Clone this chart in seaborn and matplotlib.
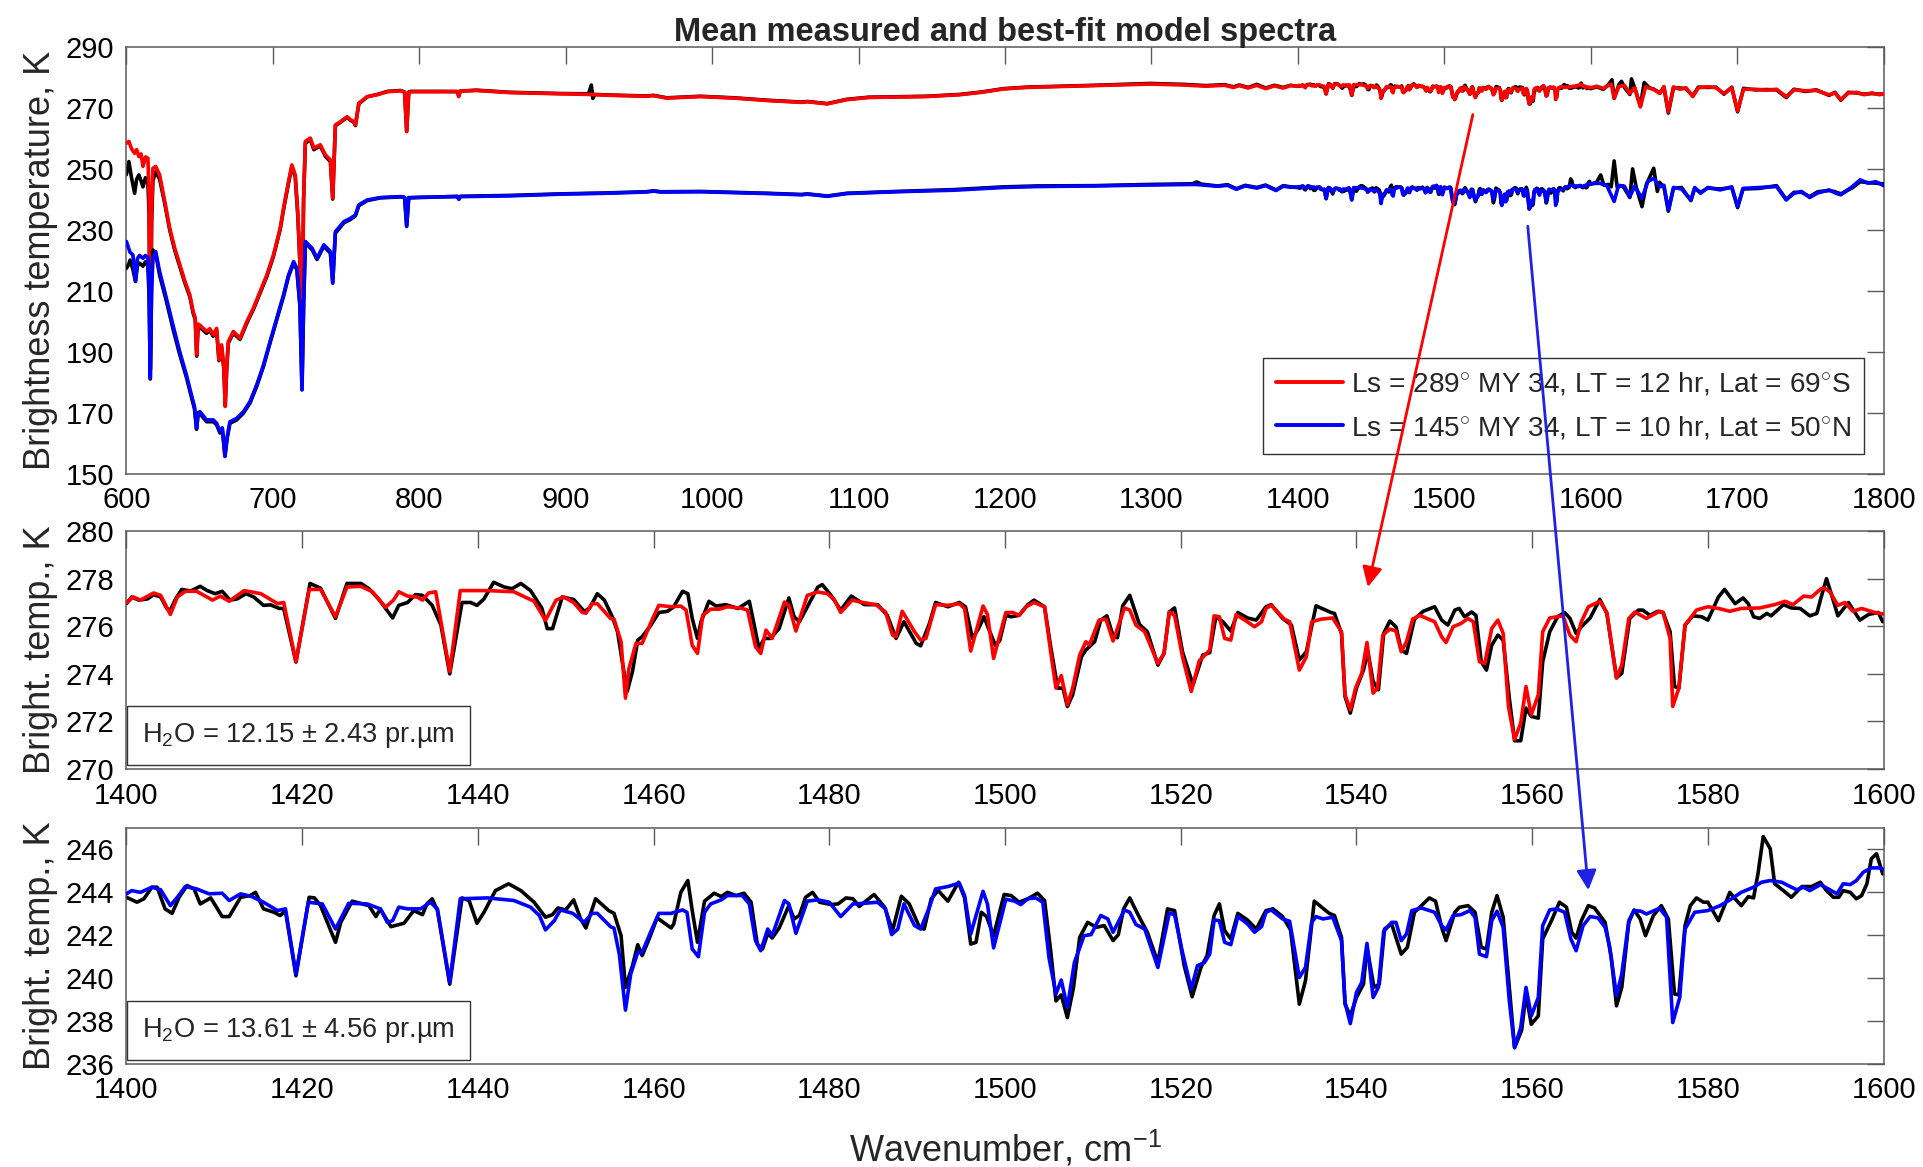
import matplotlib
matplotlib.use("Agg")
import matplotlib.pyplot as plt
import seaborn as sns
import pandas as pd
from matplotlib.lines import Line2D
from matplotlib.patches import ConnectionPatch

# ---------------- data: (wavenumber cm-1, brightness temperature K) ----------------
# Top panel, 600-800 cm-1, hot case (Ls=289)
HOT_A_MOD = [(600.0,258.3),(601.7,258.9),(603.5,256.5),(605.6,255.0),(607.0,256.2),(608.5,253.9),(610.0,254.8),(611.3,250.7),(613.0,253.8),(614.7,253.4),(615.5,240.0),(616.3,184.0),(617.2,235.0),(618.1,250.1),(620.0,250.7),(622.7,247.9),(626.2,239.2),(629.6,230.4),(633.0,223.9),(636.5,218.4),(640.0,213.0),(643.3,208.6),(645.6,203.1),(647.0,201.0),(648.0,188.9),(649.0,199.0),(650.1,198.7),(654.7,196.6),(657.0,197.5),(659.3,195.5),(661.6,197.6),(663.2,187.3),(665.0,192.2),(666.5,185.0),(667.5,172.0),(668.5,185.0),(669.6,193.3),(673.0,196.6),(677.6,194.4),(682.2,199.8),(686.7,204.2),(691.3,209.7),(695.9,215.1),(700.4,221.7),(705.0,230.4),(707.3,237.0),(710.7,245.7),(713.0,251.2),(715.3,247.9),(717.1,234.8),(718.7,217.3),(719.9,195.0),(721.0,240.0),(722.2,258.9),(725.6,260.0),(728.0,256.7),(732.4,257.8),(735.9,254.5),(739.3,252.8),(740.9,240.3),(742.7,264.3),(746.2,265.4),(750.7,267.0),(753.0,266.0),(755.3,265.4),(756.4,264.3),(758.7,271.4),(764.4,273.6),(771.3,274.2),(778.2,275.2),(787.3,275.5),(790.0,275.0),(791.4,262.1),(792.8,275.0),(794.2,275.2),(800.0,275.2)]
HOT_A_OBS = [(600.0,248.0),(601.7,252.3),(603.5,247.0),(605.6,241.9),(607.0,246.5),(608.5,247.9),(610.0,246.0),(611.3,244.0),(613.0,247.0),(614.7,245.0),(615.5,235.0),(616.3,184.0),(617.2,232.0),(618.1,246.0),(620.0,249.0),(622.7,246.5),(626.2,238.5),(629.6,229.8),(633.0,223.2),(636.5,217.8),(640.0,212.4),(643.3,208.0),(645.6,202.5),(647.0,200.5),(648.0,188.5),(649.0,198.5),(650.1,198.0),(654.7,196.0),(657.0,196.8),(659.3,195.0),(661.6,197.0),(663.2,187.0),(665.0,191.5),(666.5,184.5),(667.5,172.5),(668.5,184.5),(669.6,192.8),(673.0,196.0),(677.6,194.0),(682.2,199.3),(686.7,203.8),(691.3,209.2),(695.9,214.6),(700.4,221.2),(705.0,230.0),(707.3,236.5),(710.7,245.2),(713.0,250.6),(715.3,247.3),(717.1,234.2),(718.7,216.8),(719.9,195.0),(721.0,240.0),(722.2,258.3),(725.6,259.5),(728.0,256.2),(732.4,257.4),(735.9,254.0),(739.3,252.3),(740.9,240.0),(742.7,264.0),(746.2,265.2),(750.7,266.8),(753.0,265.8),(755.3,265.2),(756.4,264.1),(758.7,271.2),(764.4,273.5),(771.3,274.3),(778.2,275.3),(787.3,275.6),(790.0,275.1),(791.4,262.3),(792.8,275.1),(794.2,275.3),(800.0,275.3)]

# Top panel, 600-800 cm-1, cold case (Ls=145)
COLD_A_MOD = [(600.0,226.1),(601.5,224.0),(602.5,222.5),(604.4,221.7),(606.2,213.0),(607.5,220.5),(609.0,221.5),(611.3,220.6),(613.0,221.5),(614.7,220.6),(615.5,210.0),(616.3,181.3),(617.2,210.0),(618.1,220.6),(620.0,222.8),(622.7,216.2),(627.3,207.5),(631.8,198.7),(636.4,190.0),(641.0,182.3),(644.4,175.8),(646.5,172.0),(647.9,164.9),(649.0,170.0),(650.2,170.3),(654.7,167.6),(659.3,167.6),(661.6,166.5),(663.9,163.8),(665.5,165.0),(667.3,155.6),(668.8,162.0),(670.7,167.0),(675.3,168.1),(679.9,170.3),(684.4,173.6),(689.0,179.1),(693.6,185.6),(698.1,193.3),(702.7,200.9),(707.3,208.6),(710.7,215.1),(714.2,219.5),(716.4,217.3),(718.5,205.0),(719.9,177.4),(721.0,205.0),(722.2,226.1),(726.8,223.9),(730.2,220.6),(734.8,225.0),(739.3,222.8),(740.9,212.4),(742.7,229.3),(748.5,232.6),(753.0,233.7),(756.4,234.8),(758.7,238.1),(764.4,239.7),(773.6,240.5),(787.3,240.8),(790.0,240.6),(791.4,231.0),(792.8,240.5),(794.2,240.5),(800.0,240.6)]
COLD_A_OBS = [(600.0,217.3),(601.5,218.5),(602.5,220.0),(604.4,217.0),(606.2,213.0),(607.5,218.0),(609.0,219.0),(611.3,218.0),(613.0,219.5),(614.7,218.0),(615.5,208.0),(616.3,181.0),(617.2,212.0),(618.1,223.3),(620.0,222.0),(622.7,215.0),(627.3,206.5),(631.8,197.5),(636.4,189.0),(641.0,181.5),(644.4,175.0),(646.5,171.2),(647.9,164.5),(649.0,169.5),(650.2,169.7),(654.7,167.0),(659.3,167.0),(661.6,166.0),(663.9,163.3),(665.5,164.5),(667.3,155.8),(668.8,161.5),(670.7,166.5),(675.3,167.6),(679.9,169.8),(684.4,173.1),(689.0,178.6),(693.6,185.1),(698.1,192.8),(702.7,200.4),(707.3,208.1),(710.7,214.6),(714.2,219.0),(716.4,216.8),(718.5,205.0),(719.9,177.6),(721.0,205.0),(722.2,225.6),(726.8,223.4),(730.2,220.2),(734.8,224.5),(739.3,222.3),(740.9,212.6),(742.7,228.8),(748.5,232.2),(753.0,233.3),(756.4,234.5),(758.7,237.8),(764.4,239.5),(773.6,240.4),(787.3,240.7),(790.0,240.5),(791.4,231.3),(792.8,240.4),(794.2,240.4),(800.0,240.5)]

# Top panel, 800-1400 cm-1
HOT_B_MOD = [(800,275.2),(815,275.2),(826,275.3),(826.9,273.6),(828,275.4),(839,275.6),(862,274.9),(896.5,274.5),(915.6,274.3),(931,274.0),(955,273.7),(960,273.9),(969,273.1),(992,273.6),(1015,273.1),(1038,272.3),(1061,271.7),(1065,271.9),(1078.6,271.2),(1092,272.6),(1107,273.3),(1146,273.6),(1169,274.2),(1184,275.0),(1199,276.1),(1215,276.6),(1261,277.2),(1299,277.7),(1322,277.4),(1337,277.0),(1350,277.3),(1356,276.6),(1360,277.2),(1366,276.4),(1372,277.3),(1378,276.2),(1384,277.1),(1390,276.4),(1395,277.2)]
HOT_B_OBS = [(800,275.3),(815,275.3),(826,275.2),(826.9,273.9),(828,275.4),(839,275.7),(862,275.0),(896.5,274.6),(915.6,274.5),(917.5,277.4),(918.5,273.0),(920,274.3),(931,274.1),(955,273.8),(960,274.0),(969,273.2),(992,273.7),(1015,273.2),(1038,272.4),(1061,271.8),(1065,272.0),(1078.6,271.3),(1092,272.7),(1107,273.4),(1146,273.7),(1169,274.3),(1184,275.1),(1199,276.2),(1215,276.7),(1261,277.3),(1299,277.9),(1322,277.6),(1337,277.2),(1350,277.5),(1356,276.8),(1360,277.4),(1366,276.6),(1372,277.6),(1378,276.4),(1384,277.3),(1390,276.6),(1395,277.3)]
COLD_B_MOD = [(800,240.6),(826,240.8),(827,239.9),(828,240.8),(862,241.05),(896.5,241.6),(927,241.9),(955,242.3),(960,242.6),(965,242.3),(992,242.4),(1015,242.1),(1038,241.8),(1061,241.4),(1065,241.6),(1078.6,240.9),(1092,241.8),(1126,242.4),(1165,242.9),(1199,243.8),(1222,244.1),(1261,244.3),(1299,244.6),(1330,244.8),(1345,244.2),(1352,244.5),(1358,243.2),(1364,244.3),(1372,243.6),(1378,244.4),(1385,242.8),(1390,244.2),(1395,243.9)]
COLD_B_OBS = [(800,240.5),(826,240.9),(827,240.1),(828,240.9),(862,241.2),(896.5,241.7),(927,242.0),(955,242.4),(960,242.7),(965,242.4),(992,242.5),(1015,242.2),(1038,241.9),(1061,241.5),(1065,241.7),(1078.6,241.0),(1092,241.9),(1126,242.5),(1165,243.1),(1199,244.0),(1222,244.3),(1261,244.4),(1299,244.8),(1328,245.0),(1331,245.6),(1334,244.9),(1345,244.3),(1352,244.7),(1358,243.4),(1364,244.5),(1372,243.8),(1378,244.6),(1385,243.0),(1390,244.4),(1395,244.0)]

# 1400-1600 cm-1, hot case (middle panel)
MID_MOD = [(1400.0,277.0),(1400.8,277.23),(1401.6,277.1),(1403.1,277.4),(1403.9,277.3),(1405.0,276.5),(1405.8,277.23),(1406.7,277.47),(1408.0,277.47),(1409.8,277.1),(1410.7,277.27),(1411.7,277.05),(1413.4,277.5),(1415.3,277.37),(1417.2,276.95),(1417.9,277.0),(1419.3,274.5),(1420.8,277.55),(1422.1,277.55),(1423.8,276.4),(1425.1,277.65),(1426.7,277.68),(1428.0,277.45),(1429.5,276.8),(1430.4,277.1),(1431.0,277.45),(1432.0,277.27),(1433.1,277.23),(1433.7,277.1),(1434.4,277.4),(1435.2,277.45),(1436.8,274.1),(1438.0,277.5),(1441.1,277.5),(1444.1,277.45),(1446.4,277.05),(1447.7,276.25),(1448.9,277.1),(1449.8,277.23),
           (1450.9,277.0),(1451.9,276.58),(1452.3,276.55),(1453.0,276.95),(1453.6,276.95),(1455.1,276.33),(1455.5,276.3),(1456.3,275.35),(1456.8,272.98),(1457.2,274.23),(1458.0,275.28),(1458.7,275.28),(1459.9,276.33),(1460.6,276.88),(1462.0,276.82),(1463.1,276.85),(1463.7,276.68),(1464.4,275.2),(1465.0,274.86),(1465.6,276.46),(1466.5,276.72),(1467.5,276.72),(1468.4,276.82),(1469.9,276.77),(1470.7,276.68),(1471.6,275.14),(1472.2,274.86),(1472.8,275.84),(1473.5,275.49),(1474.9,277.02),(1475.4,276.88),(1476.2,275.8),(1477.5,277.3),(1478.7,277.44),(1479.8,277.37),(1480.6,277.1),(1481.3,276.58),(1482.6,277.1),(1483.8,277.0),(1485.3,276.91),(1486.4,276.6),(1487.2,275.63),(1487.6,275.56),(1488.3,276.63),(1489.7,275.77),(1490.4,275.42),(1491.0,275.49),(1492.1,276.91),(1493.5,276.88),(1494.8,276.95),(1495.4,276.75),(1496.1,274.96),(1497.5,276.85),(1498.0,276.5),(1498.7,274.65),
           (1500.1,276.58),(1500.9,276.58),(1501.6,276.46),(1502.4,276.82),(1503.3,277.0),(1504.5,276.82),(1505.2,274.93),(1505.8,273.4),(1506.4,273.93),(1507.1,272.7),(1507.7,273.4),(1508.5,274.79),(1509.2,275.35),(1509.6,275.21),(1510.7,276.26),(1511.5,276.3),(1512.3,275.38),(1513.6,276.77),(1514.2,276.68),(1514.9,276.05),(1515.9,275.77),(1517.4,274.44),(1518.1,274.86),(1518.7,276.6),(1519.3,276.46),(1520.2,274.72),(1521.2,273.26),(1522.1,274.54),(1523.3,275.0),(1523.8,276.44),(1524.4,276.4),(1525.0,275.49),(1525.7,275.42),(1526.3,276.49),(1527.3,276.26),(1528.4,275.98),(1529.2,276.19),(1529.7,276.75),(1530.3,276.88),(1531.8,276.3),(1532.4,276.19),(1533.5,274.16),(1534.3,274.72),(1534.9,276.19),(1536.0,276.3),(1537.3,276.35),(1538.3,275.77),(1538.7,273.12),(1539.3,272.49),(1539.9,273.4),(1540.6,274.02),(1541.2,275.32),(1541.9,273.19),(1542.4,273.4),(1543.0,275.63),(1543.8,275.88),(1544.5,275.8),(1545.1,274.93),(1545.7,275.35),(1546.4,276.3),(1547.2,276.46),(1548.9,276.19),(1549.7,275.56),
           (1550.2,275.32),(1551.0,275.98),(1551.9,276.12),(1552.7,276.33),(1553.3,276.19),(1554.0,274.51),(1554.6,274.44),(1555.4,275.91),(1556.1,276.26),(1556.7,275.7),(1557.3,272.63),(1558.0,271.24),(1558.7,271.93),(1559.3,273.47),(1559.9,272.28),(1560.7,273.12),(1561.2,275.77),(1562.0,276.35),(1563.5,276.44),(1564.3,275.63),(1565.0,275.35),(1565.6,276.19),(1566.4,276.82),(1567.7,277.05),(1568.5,276.58),(1569.6,273.82),(1570.2,274.37),(1571.0,276.33),(1571.7,276.6),(1573.0,276.33),(1574.5,276.63),(1574.9,276.58),(1575.7,275.49),(1576.0,272.63),(1576.7,273.4),(1577.4,276.05),(1578.7,276.68),(1580.0,276.82),(1581.2,276.75),(1582.5,276.63),(1583.8,276.75),(1585.9,276.77),(1587.6,276.91),(1588.8,277.05),(1589.7,276.91),(1590.9,277.27),(1591.8,277.23),(1592.9,277.58),(1593.3,277.6),(1593.9,277.44),(1594.8,276.88),(1595.6,277.0),(1596.5,276.63),(1597.5,276.75),(1599.0,276.58),(1600.2,276.5)]
MID_OBS = [(1400.0,276.95),(1400.6,277.23),(1401.4,277.1),(1402.4,277.15),(1403.1,277.33),(1403.9,277.23),(1404.6,276.75),(1405.0,276.68),(1405.6,277.15),(1406.3,277.55),(1407.3,277.48),(1408.4,277.68),(1409.2,277.5),(1410.1,277.37),(1410.9,277.47),(1411.8,277.1),(1412.6,277.15),(1413.6,277.37),(1414.5,277.23),(1415.6,276.88),(1416.4,276.9),(1417.4,276.75),(1417.9,276.75),(1419.3,274.5),(1420.9,277.8),(1422.1,277.6),(1423.8,276.33),(1425.1,277.8),(1426.7,277.8),(1427.6,277.58),(1428.7,277.15),(1430.3,276.35),(1431.0,276.88),(1432.0,277.0),(1432.9,277.33),(1433.7,277.3),(1434.8,276.88),(1435.8,276.05),(1436.8,274.0),(1438.2,277.0),(1439.2,277.0),(1439.9,276.88),(1440.7,277.15),(1441.8,277.85),(1443.0,277.65),(1443.9,277.58),(1444.9,277.8),(1446.0,277.5),(1447.3,276.75),(1447.9,275.9),(1448.5,275.9),(1449.6,277.23),
           (1450.9,277.13),(1452.1,276.63),(1452.7,276.75),(1453.6,277.37),(1454.4,277.1),(1455.3,276.4),(1455.9,275.77),(1456.5,274.37),(1457.0,273.26),(1457.6,274.1),(1458.2,275.42),(1458.7,275.56),(1459.7,276.05),(1460.6,276.58),(1461.6,276.63),(1462.3,276.82),(1463.3,277.47),(1463.9,277.37),(1464.4,276.33),(1465.0,275.49),(1465.4,276.19),(1466.3,277.05),(1467.1,276.85),(1468.2,276.91),(1469.6,276.75),(1470.9,277.05),(1472.0,275.07),(1472.6,275.49),(1473.3,275.49),(1474.3,275.91),(1475.4,277.19),(1476.0,276.4),(1476.6,276.19),(1477.5,276.82),(1478.7,277.65),(1479.2,277.75),(1480.2,277.3),(1481.3,276.68),(1482.5,277.27),(1484.0,276.91),(1485.5,276.91),(1486.6,276.46),(1487.6,275.49),(1488.5,276.19),(1489.9,275.28),(1490.4,275.18),(1491.4,276.12),(1492.1,277.0),(1493.5,276.82),(1494.8,277.0),(1495.5,276.82),(1496.3,275.49),(1497.0,275.91),(1497.6,276.4),(1498.2,275.84),(1498.9,275.2),(1499.4,275.4),(1500.1,276.46),
           (1500.7,276.4),(1501.6,276.46),(1502.6,276.91),(1503.3,277.1),(1504.5,276.82),(1505.2,275.14),(1506.0,273.4),(1506.6,273.4),(1507.1,272.63),(1507.7,273.12),(1508.7,274.72),(1509.2,275.0),(1510.2,275.35),(1510.9,276.26),(1511.6,276.44),(1512.3,275.6),(1512.8,275.52),(1513.4,276.86),(1514.2,277.3),(1515.3,276.08),(1516.2,275.77),(1517.4,274.37),(1518.1,274.86),(1518.7,276.6),(1519.3,276.77),(1520.2,274.93),(1521.4,273.54),(1522.5,274.79),(1523.3,274.89),(1524.0,276.4),(1524.8,276.19),(1525.7,275.8),(1526.5,276.58),(1527.6,276.35),(1528.6,276.26),(1529.7,276.82),(1530.3,276.91),(1531.6,276.33),(1532.6,276.05),(1533.5,274.58),(1534.3,274.93),(1535.4,276.86),(1537.1,276.58),(1537.5,276.54),(1538.3,275.7),(1538.7,273.05),(1539.3,272.35),(1540.0,273.4),(1540.8,274.16),(1541.3,274.93),(1541.9,273.68),(1542.5,273.33),(1543.1,275.7),(1543.8,276.22),(1544.5,275.98),(1545.1,275.0),(1545.7,274.86),(1546.6,276.3),(1547.6,276.63),(1548.9,276.82),(1549.7,276.26),
           (1550.4,276.05),(1551.2,276.68),(1551.7,276.75),(1552.3,276.4),(1553.1,276.6),(1553.6,276.46),(1554.2,274.51),(1554.8,274.16),(1555.4,275.21),(1556.1,275.63),(1556.7,275.42),(1557.4,272.98),(1558.0,271.19),(1558.7,271.19),(1559.3,272.56),(1559.9,272.21),(1560.7,272.14),(1561.2,274.51),(1562.0,275.77),(1562.9,276.4),(1563.7,276.58),(1564.3,276.33),(1565.0,275.7),(1565.6,275.98),(1566.6,276.35),(1567.7,277.13),(1568.5,276.54),(1569.6,273.84),(1570.2,274.02),(1571.1,276.33),(1572.1,276.68),(1572.6,276.68),(1573.4,276.46),(1574.3,276.63),(1574.9,276.58),(1575.7,275.77),(1576.2,273.47),(1576.7,273.4),(1577.4,276.05),(1578.3,276.44),(1579.3,276.4),(1580.0,276.26),(1581.2,277.23),(1581.9,277.55),(1583.1,276.95),(1584.0,277.19),(1584.6,276.95),(1585.2,276.4),(1585.9,276.33),(1586.7,276.54),(1587.2,276.44),(1588.6,276.91),(1589.5,276.77),(1590.5,276.75),(1591.6,276.44),(1592.4,276.54),(1592.9,277.23),(1593.5,278.0),(1594.1,277.3),(1594.8,276.44),(1596.0,277.0),(1597.3,276.26),(1598.3,276.5),(1599.4,276.58),(1599.9,276.19)]

# 1400-1600 cm-1, cold case (bottom panel)
BOT_MOD = [(1400.0,243.93),(1400.6,244.08),(1401.6,244.0),(1402.9,244.24),(1403.9,244.12),(1405.0,243.38),(1405.8,243.77),(1406.7,244.27),(1408.0,244.16),(1409.4,243.93),(1410.9,243.96),(1411.7,243.62),(1413.0,243.93),(1414.3,243.8),(1415.6,243.54),(1417.2,243.15),(1418.1,243.23),(1419.3,240.19),(1420.7,243.54),(1422.3,243.46),(1423.8,242.29),(1425.3,243.49),(1427.4,243.46),(1428.9,243.23),(1429.7,242.6),(1430.3,242.68),(1431.0,243.31),(1432.0,243.23),(1433.5,243.23),(1434.6,243.54),(1435.4,243.23),(1436.8,239.8),(1438.0,243.7),(1441.1,243.74),(1444.1,243.62),(1446.0,243.31),(1447.0,242.92),(1447.7,242.25),(1448.7,242.68),(1449.4,243.18),
           (1450.8,243.02),(1452.1,242.6),(1453.0,243.02),(1453.6,243.02),(1455.1,242.4),(1455.5,242.33),(1456.1,241.12),(1456.8,238.51),(1457.4,240.19),(1458.2,241.2),(1458.7,241.2),(1459.7,242.18),(1460.6,243.02),(1462.0,243.02),(1463.3,243.18),(1463.8,243.07),(1464.4,241.36),(1465.1,241.0),(1465.8,243.07),(1466.5,243.46),(1467.7,243.65),(1468.4,243.85),(1470.1,243.85),(1470.9,243.46),(1471.6,241.75),(1472.2,241.28),(1473.0,242.29),(1473.5,241.98),(1474.9,243.62),(1475.4,243.46),(1476.2,242.09),(1477.5,243.59),(1478.7,243.65),(1480.0,243.54),(1481.3,242.87),(1482.7,243.46),(1484.0,243.49),(1485.5,243.54),(1486.4,243.23),(1487.1,242.03),(1487.8,242.29),(1488.5,243.46),(1489.7,242.45),(1490.4,242.29),(1491.4,243.31),(1492.1,244.16),(1493.5,244.27),(1494.8,244.43),(1495.4,243.85),(1496.1,242.06),(1497.5,244.05),(1498.0,243.46),(1498.7,241.41),
           (1500.1,243.68),(1501.1,243.59),(1501.8,243.43),(1502.6,243.7),(1503.5,243.74),(1504.3,243.54),(1505.0,240.97),(1505.8,239.26),(1506.4,239.91),(1507.1,238.63),(1507.9,240.73),(1509.0,241.98),(1509.8,242.03),(1510.9,242.92),(1511.7,242.76),(1512.3,242.14),(1513.6,243.18),(1514.2,243.07),(1514.9,242.5),(1515.9,242.29),(1517.4,240.5),(1518.7,243.04),(1519.3,242.96),(1520.2,241.2),(1521.2,239.49),(1521.9,240.58),(1522.7,240.73),(1523.3,241.12),(1523.8,242.71),(1524.4,242.68),(1525.0,241.67),(1525.7,241.56),(1526.5,242.87),(1527.6,242.53),(1528.4,242.14),(1529.2,242.4),(1529.7,243.07),(1530.3,243.18),(1531.6,242.76),(1532.4,242.65),(1533.5,240.03),(1534.2,240.5),(1534.9,242.6),(1535.4,242.87),(1536.2,242.76),(1537.3,242.84),(1538.3,241.75),(1538.7,238.87),(1539.3,237.88),(1540.0,239.33),(1540.6,239.8),(1541.2,241.62),(1541.9,239.1),(1542.5,239.57),(1543.1,242.18),(1544.0,242.6),(1544.5,242.6),(1545.1,241.75),(1545.7,242.06),(1546.3,243.15),(1547.4,243.27),(1548.9,243.07),(1549.7,242.45),
           (1550.2,242.25),(1551.0,242.92),(1551.9,242.96),(1552.9,243.15),(1553.5,242.84),(1554.0,241.12),(1554.8,241.0),(1555.4,242.68),(1556.0,243.12),(1556.7,242.37),(1557.4,238.94),(1558.0,236.76),(1558.7,237.7),(1559.3,239.57),(1559.9,238.24),(1560.7,239.1),(1561.2,242.45),(1562.0,243.18),(1562.8,243.23),(1563.7,243.07),(1564.4,241.83),(1565.0,241.28),(1565.8,242.45),(1566.6,242.87),(1567.5,242.81),(1568.3,242.37),(1568.8,241.51),(1569.6,239.18),(1570.2,240.19),(1571.0,242.68),(1571.6,243.15),(1572.4,243.12),(1573.0,242.99),(1574.5,243.26),(1575.3,242.84),(1576.0,237.93),(1576.8,239.1),(1577.4,242.29),(1578.5,243.07),(1580.0,243.15),(1581.4,243.38),(1582.7,243.7),(1583.8,244.0),(1585.2,244.24),(1586.1,244.47),(1587.1,244.55),(1588.4,244.47),(1589.5,244.24),(1590.1,244.12),(1590.9,244.24),(1591.6,244.08),(1592.8,244.36),(1593.7,244.16),(1594.7,243.93),(1595.4,244.4),(1596.2,244.36),(1596.9,244.55),(1597.7,244.94),(1598.6,245.14),(1599.6,245.14),(1600.2,245.02)]
BOT_OBS = [(1400.0,243.77),(1401.2,243.54),(1402.0,243.7),(1402.9,244.24),(1403.5,244.24),(1404.4,243.23),(1405.2,243.02),(1406.0,243.77),(1406.9,244.32),(1407.7,244.16),(1408.4,243.46),(1409.6,243.74),(1410.9,242.87),(1411.7,242.87),(1413.0,243.77),(1414.1,243.85),(1414.7,244.0),(1415.6,243.23),(1416.8,243.07),(1417.5,242.92),(1418.1,243.15),(1419.3,240.11),(1420.8,243.77),(1421.4,243.74),(1422.1,243.38),(1423.8,241.67),(1424.4,242.6),(1425.7,243.59),(1427.6,243.38),(1428.4,242.87),(1428.9,243.23),(1430.1,242.4),(1431.6,242.56),(1432.7,243.15),(1433.7,242.96),(1434.2,243.46),(1434.8,243.7),(1435.4,243.15),(1436.8,239.72),(1438.2,243.74),(1439.0,243.62),(1439.9,242.56),(1440.7,243.07),(1442.0,244.08),(1443.5,244.4),(1444.9,244.08),(1446.4,243.54),(1447.7,242.84),(1448.5,242.96),(1449.1,243.27),(1450.0,243.18),
           (1450.9,243.65),(1451.7,242.76),(1452.3,242.34),(1453.4,243.7),(1454.9,243.15),(1455.5,243.02),(1456.3,241.98),(1456.8,239.57),(1457.6,240.58),(1458.2,241.56),(1458.7,241.05),(1459.5,241.83),(1460.4,242.81),(1462.0,242.34),(1462.3,242.53),(1463.1,244.0),(1463.9,244.55),(1464.4,243.15),(1465.0,241.67),(1465.8,243.59),(1466.9,243.96),(1467.7,243.8),(1468.4,244.0),(1469.4,243.85),(1470.3,243.96),(1471.1,243.54),(1471.8,241.59),(1472.4,241.36),(1473.0,242.09),(1473.5,241.87),(1474.3,242.34),(1475.4,243.38),(1476.0,242.76),(1476.6,242.92),(1477.3,243.77),(1478.1,244.0),(1478.9,243.54),(1480.2,243.43),(1481.0,243.46),(1481.9,243.74),(1482.7,243.7),(1483.4,243.34),(1485.1,243.9),(1486.3,243.31),(1487.2,242.22),(1488.2,243.82),(1489.1,243.46),(1490.3,242.34),(1490.8,242.29),(1491.6,243.7),(1492.4,244.08),(1493.5,243.59),(1494.7,244.47),(1495.4,243.74),(1496.1,241.59),(1496.7,241.67),(1497.3,243.07),(1497.9,242.87),(1498.7,241.98),(1499.9,243.9),
           (1500.7,243.85),(1501.6,243.54),(1502.6,243.7),(1503.7,243.96),(1504.5,243.62),(1505.2,241.28),(1505.8,238.94),(1506.4,239.22),(1507.1,238.16),(1507.8,239.57),(1508.5,241.9),(1509.4,242.6),(1510.4,242.37),(1511.3,242.45),(1512.3,241.75),(1512.9,242.03),(1513.5,243.23),(1514.2,243.74),(1515.1,242.99),(1516.2,242.14),(1517.4,240.73),(1518.5,243.23),(1519.3,243.15),(1520.4,240.58),(1521.3,239.13),(1522.3,240.5),(1523.0,241.05),(1523.8,242.92),(1524.4,243.46),(1525.0,242.22),(1525.7,241.83),(1526.5,243.02),(1527.6,242.71),(1528.6,242.29),(1529.7,243.15),(1530.5,243.23),(1531.6,242.87),(1532.5,242.25),(1533.5,238.79),(1534.2,239.88),(1535.2,243.59),(1536.9,243.02),(1537.5,242.92),(1538.3,241.9),(1538.7,238.79),(1539.3,238.24),(1540.0,239.1),(1540.8,239.72),(1541.2,241.44),(1542.0,239.57),(1542.6,239.72),(1543.2,242.29),(1544.0,242.53),(1545.1,241.12),(1545.8,241.44),(1546.6,243.07),(1547.4,243.38),(1548.3,243.74),(1549.0,243.59),(1549.7,242.37),
           (1550.2,241.75),(1551.2,243.07),(1551.7,243.3),(1552.7,243.38),(1553.5,243.07),(1554.2,241.44),(1554.8,241.36),(1555.4,243.07),(1556.0,243.85),(1556.7,242.84),(1557.4,239.57),(1558.0,236.76),(1558.8,237.57),(1559.3,239.26),(1559.9,237.85),(1560.7,238.24),(1561.2,241.83),(1562.2,242.68),(1563.1,243.54),(1563.9,243.31),(1564.5,242.14),(1565.0,241.87),(1565.6,242.68),(1566.4,243.38),(1567.1,243.27),(1568.3,242.6),(1569.0,240.97),(1569.6,238.71),(1570.2,239.57),(1571.0,242.6),(1571.6,243.18),(1572.3,242.76),(1572.9,241.98),(1573.8,242.92),(1574.7,243.38),(1575.5,242.76),(1576.2,239.26),(1576.7,239.22),(1577.4,242.45),(1578.0,243.38),(1578.7,243.74),(1579.5,243.54),(1580.0,243.54),(1581.2,242.68),(1582.5,244.0),(1583.1,243.7),(1583.8,243.38),(1584.6,243.8),(1585.2,243.74),(1585.7,244.86),(1586.3,246.6),(1587.1,246.03),(1587.6,244.4),(1588.6,244.08),(1589.5,243.77),(1590.7,244.27),(1591.8,244.27),(1592.8,244.47),(1593.5,244.08),(1594.3,243.77),(1594.9,243.77),(1595.4,244.08),(1596.2,244.0),(1596.9,243.7),(1597.5,243.85),(1598.1,244.4),(1598.6,245.56),(1599.2,245.8),(1599.9,244.86)]

# Top panel, 1600-1800 cm-1
HOT_D_MOD = [(1604,277.0),(1608.6,276.3),(1614,277.7),(1616,273.1),(1619.2,276.9),(1623,277.3),(1626.7,274.6),(1630,276.5),(1633.9,270.2),(1637.5,276.8),(1643.2,275.9),(1647.2,274.6),(1650,276.9),(1653,268.6),(1656.5,276.8),(1661,276.0),(1665,276.5),(1669.7,273.6),(1673.5,276.5),(1680.4,276.8),(1685.5,276.5),(1691,274.6),(1696.3,276.5),(1700.3,268.9),(1704.3,276.0),(1712.3,276.0),(1720.3,275.7),(1726.9,276.0),(1733.5,273.6),(1738.8,275.8),(1746.8,275.5),(1754,275.6),(1762.8,274.2),(1766.8,274.8),(1770.8,272.6),(1776,274.8),(1781.4,275.0),(1786.7,274.2),(1792,274.8),(1797.3,274.2),(1800,274.6)]
HOT_D_OBS = [(1604,276.8),(1608.6,276.0),(1612,277.5),(1614.5,279.1),(1616,273.0),(1619.2,277.5),(1621,278.6),(1623,276.6),(1626.7,274.3),(1627.8,279.4),(1630,276.5),(1633.9,270.5),(1636.5,278.2),(1640,276.5),(1643.2,276.0),(1647.2,274.8),(1650,276.6),(1653,268.2),(1656.5,276.5),(1661,276.4),(1665,276.2),(1669.7,273.9),(1673.5,276.7),(1680.4,276.6),(1685.5,276.7),(1691,274.4),(1696.3,276.7),(1700.3,268.6),(1704.3,276.3),(1712.3,275.8),(1720.3,275.9),(1726.9,275.8),(1733.5,273.3),(1738.8,276.0),(1746.8,275.3),(1754,275.8),(1762.8,274.0),(1766.8,275.0),(1770.8,272.4),(1776,275.0),(1781.4,274.8),(1786.7,274.4),(1792,274.6),(1797.3,274.4),(1800,274.5)]
COLD_D_MOD = [(1606,245.2),(1611,244.4),(1616,239.2),(1619,244.5),(1623,244.2),(1626.7,240.8),(1630,244.2),(1635,240.3),(1639,245.7),(1643,246.8),(1647,244.0),(1650,244.5),(1653,236.4),(1656.5,243.8),(1662,243.3),(1668.4,239.7),(1671,243.8),(1675,241.9),(1680,243.8),(1688.4,243.0),(1696.3,244.0),(1700.3,237.5),(1704,243.5),(1715,243.8),(1726.9,244.1),(1733.5,239.7),(1738.8,241.9),(1744,242.5),(1749.5,240.5),(1755,242.0),(1762.8,243.0),(1767,242.0),(1770.8,241.4),(1778.7,244.1),(1784,246.3),(1789.4,245.2),(1794.7,245.7),(1800,244.4)]
COLD_D_OBS = [(1604,245.5),(1606.8,247.9),(1609,244.5),(1612,244.8),(1614,244.0),(1616,252.5),(1618,244.0),(1622,244.3),(1626.7,240.5),(1628.6,249.9),(1631,244.0),(1635,237.5),(1638,244.8),(1643,250.1),(1645.5,242.5),(1647,245.5),(1650,244.0),(1653,236.0),(1656.5,243.5),(1662,243.8),(1668.4,239.5),(1671,243.5),(1675,242.2),(1680,243.6),(1688.4,243.3),(1696.3,243.8),(1700.3,237.2),(1704,243.3),(1715,243.5),(1726.9,244.4),(1733.5,239.9),(1738.8,242.2),(1744,242.2),(1749.5,240.8),(1755,242.4),(1762.8,242.8),(1767,242.4),(1770.8,241.7),(1778.7,243.7),(1784,245.7),(1789.4,245.4),(1794.7,245.2),(1800,245.0)]

LEGEND_LABELS = [r"Ls = 289$^{\circ}$ MY 34, LT = 12 hr, Lat = 69$^{\circ}$S",
                 r"Ls = 145$^{\circ}$ MY 34, LT = 10 hr, Lat = 50$^{\circ}$N"]
H2O_TEXT = [r"H$_2$O = 12.15 ± 2.43 pr.µm", r"H$_2$O = 13.61 ± 4.56 pr.µm"]

# ---------------- styling ----------------
sns.set_theme(style="white")
plt.rcParams["font.family"] = ["Liberation Sans", "DejaVu Sans"]
plt.rcParams["mathtext.fontset"] = "custom"
plt.rcParams["mathtext.rm"] = "Liberation Sans"
plt.rcParams["mathtext.it"] = "Liberation Sans:italic"
plt.rcParams["mathtext.bf"] = "Liberation Sans:bold"

RED, BLUE, BLACK = "#ff0000", "#0000ff", "#000000"
LW = 2.6
FS = 21
LFS = 26
SPINE = "#5a5a5a"

fig = plt.figure(figsize=(19.24, 11.67), dpi=100)
ax0 = fig.add_axes([0.0657, 0.5942, 0.9133, 0.3659])
ax1 = fig.add_axes([0.0657, 0.3410, 0.9133, 0.2039])
ax2 = fig.add_axes([0.0657, 0.0883, 0.9133, 0.2022])


def draw(ax, pts, color, z):
    df = pd.DataFrame(pts, columns=["wn", "T"])
    sns.lineplot(data=df, x="wn", y="T", ax=ax, color=color, lw=LW, sort=False,
                 estimator=None, legend=False, zorder=z)


# top panel
draw(ax0, HOT_A_OBS + HOT_B_OBS + MID_OBS + HOT_D_OBS, BLACK, 2)
draw(ax0, HOT_A_MOD + HOT_B_MOD + MID_MOD + HOT_D_MOD, RED, 3)
draw(ax0, COLD_A_OBS + COLD_B_OBS + BOT_OBS + COLD_D_OBS, BLACK, 4)
draw(ax0, COLD_A_MOD + COLD_B_MOD + BOT_MOD + COLD_D_MOD, BLUE, 5)
# middle / bottom panels
draw(ax1, MID_OBS, BLACK, 2)
draw(ax1, MID_MOD, RED, 3)
draw(ax2, BOT_OBS, BLACK, 2)
draw(ax2, BOT_MOD, BLUE, 3)


def style(ax, xlim, ylim, xt, yt):
    ax.set_xlim(*xlim)
    ax.set_ylim(*ylim)
    ax.set_xticks(xt)
    ax.set_yticks(yt)
    ax.tick_params(direction="in", length=12, width=1, top=True, right=True,
                   labelsize=FS, pad=9, color=SPINE, labelcolor="black")
    for s in ax.spines.values():
        s.set_visible(True)
        s.set_color(SPINE)
        s.set_linewidth(1.1)
    ax.set_xlabel("")
    ax.grid(False)


style(ax0, (600, 1800), (150, 290), list(range(600, 1801, 100)), list(range(150, 291, 20)))
style(ax1, (1400, 1600), (270, 280), list(range(1400, 1601, 20)), list(range(270, 281, 2)))
style(ax2, (1400, 1600), (236, 247), list(range(1400, 1601, 20)), list(range(236, 247, 2)))

ax0.set_ylabel("Brightness temperature, K", fontsize=LFS)
ax1.set_ylabel("Bright. temp., K", fontsize=LFS)
ax2.set_ylabel("Bright. temp., K", fontsize=LFS)
for a in (ax0, ax1, ax2):
    a.yaxis.set_label_coords(-0.039, 0.5)
ax2.set_xlabel("Wavenumber, cm$^{-1}$", fontsize=LFS)
ax2.xaxis.set_label_coords(0.5, -0.275)
ax0.set_title("Mean measured and best-fit model spectra", fontsize=23.5, fontweight="bold", pad=4)

handles = [Line2D([0], [0], color=RED, lw=2.8), Line2D([0], [0], color=BLUE, lw=2.8)]
leg = ax0.legend(handles, LEGEND_LABELS, loc="lower right", fontsize=20.2, frameon=True,
                 fancybox=False, edgecolor="#333333", framealpha=1, handlelength=2.4,
                 handletextpad=0.3, labelspacing=0.6, borderpad=0.45, borderaxespad=0.7)
leg.get_frame().set_linewidth(1.0)
leg.set_zorder(6)

for a, txt in ((ax1, H2O_TEXT[0]), (ax2, H2O_TEXT[1])):
    a.text(0.0088, 0.082, txt, transform=a.transAxes, fontsize=19.6, ha="left", va="bottom",
           zorder=8, bbox=dict(boxstyle="square,pad=0.55", fc="white", ec="#333333", lw=1.0))

# arrows linking the zoomed regions
arr_red = ConnectionPatch(xyA=(1519.5, 267.7), coordsA=ax0.transData,
                          xyB=(1541.3, 277.65), coordsB=ax1.transData,
                          arrowstyle="-|>", color=RED, lw=2.0, mutation_scale=30, zorder=20)
arr_blue = ConnectionPatch(xyA=(1557.0, 231.1), coordsA=ax0.transData,
                           xyB=(1566.4, 244.1), coordsB=ax2.transData,
                           arrowstyle="-|>", color="#2020e6", lw=2.0, mutation_scale=30, zorder=20)
fig.add_artist(arr_red)
fig.add_artist(arr_blue)

fig.savefig("out.png", dpi=100, facecolor="white")
